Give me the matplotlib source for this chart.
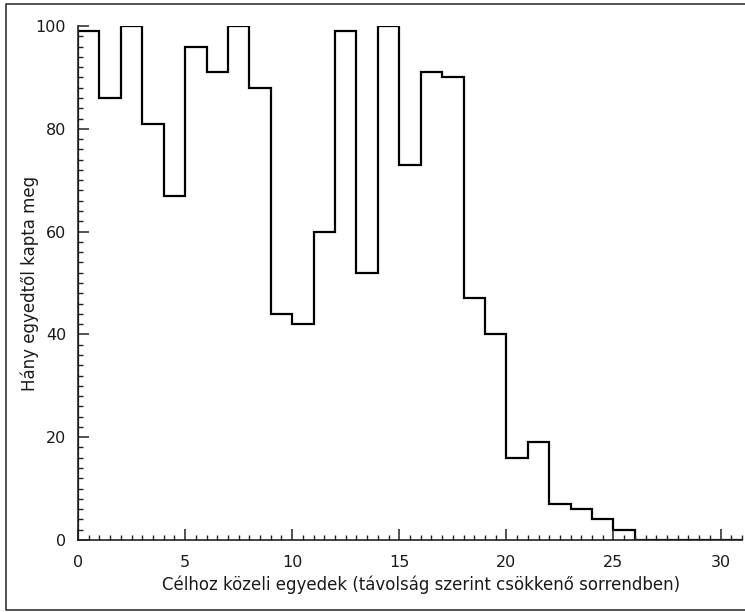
import matplotlib
matplotlib.use("Agg")
import matplotlib.pyplot as plt
import numpy as np
from matplotlib.ticker import MultipleLocator
from matplotlib.lines import Line2D

# Counts per rank position (bins of width 1, starting at 0)
counts = [99, 86, 100, 81, 67, 96, 91, 100, 88, 44, 42, 60, 99, 52, 100, 73,
          91, 90, 47, 40, 16, 19, 7, 6, 4, 2, 0, 0, 0, 0, 0]
bin_edges = list(range(0, len(counts) + 1))
x_label = "Célhoz közeli egyedek (távolság szerint csökkenő sorrendben)"
y_label = "Hány egyedtől kapta meg"

W, H = 745, 612
fig = plt.figure(figsize=(W / 100, H / 100), dpi=100)
ax = fig.add_axes([78 / W, (H - 540) / H, (742 - 78) / W, (540 - 26) / H])

ax.stairs(counts, bin_edges, color="black", linewidth=1.6)

ax.set_xlim(0, 31)
ax.set_ylim(0, 100)
ax.xaxis.set_major_locator(MultipleLocator(5))
ax.xaxis.set_minor_locator(MultipleLocator(0.5))
ax.yaxis.set_major_locator(MultipleLocator(20))
ax.yaxis.set_minor_locator(MultipleLocator(2))

for s in ("top", "right"):
    ax.spines[s].set_visible(False)
for s in ("left", "bottom"):
    ax.spines[s].set_linewidth(1.2)
    ax.spines[s].set_color("#222222")

ax.tick_params(which="major", direction="in", length=8, width=1.1, color="#222222",
               labelsize=11.5, labelcolor="#1a1a1a")
ax.tick_params(which="minor", direction="in", length=3.5, width=1.0, color="#222222")
ax.tick_params(axis="x", which="major", pad=11)
ax.tick_params(axis="y", which="major", pad=8.5)

ax.set_xlabel(x_label, fontsize=12, labelpad=4, color="#1a1a1a")
ax.xaxis.label.set_x(0.5166)
ax.set_ylabel(y_label, fontsize=12, labelpad=-2.5, color="#1a1a1a")

# Outer frame: top, left, bottom (right side falls outside the image)
x0, y_top, y_bot = 6 / W, 1 - 4 / H, 1 - 609.5 / H
frame_x = [1.2, x0, x0, 1.2]
frame_y = [y_top, y_top, y_bot, y_bot]
fig.add_artist(Line2D(frame_x, frame_y, transform=fig.transFigure,
                      color="#333333", linewidth=1.2))

fig.savefig("out.png", dpi=100)
